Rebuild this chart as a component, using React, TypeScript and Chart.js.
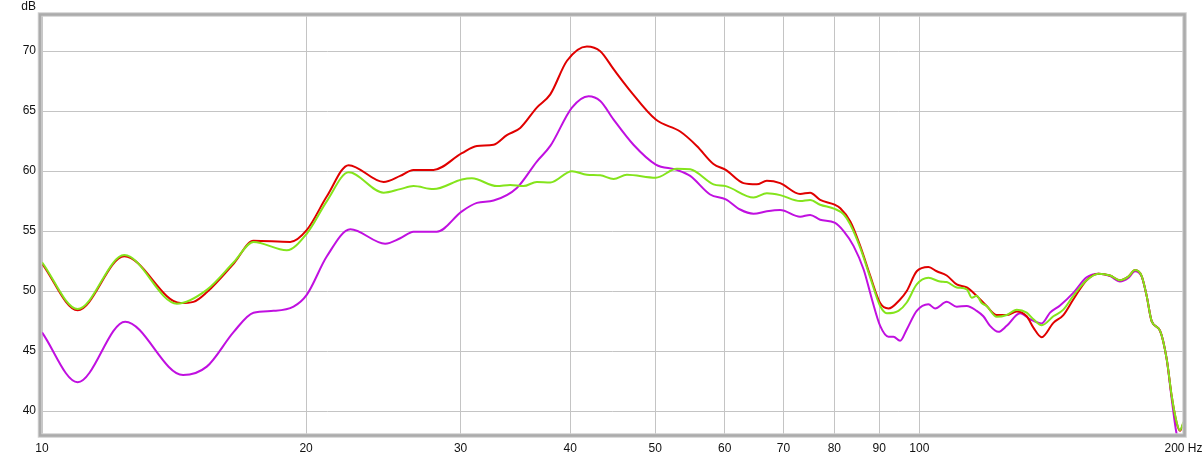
import React, { useEffect, useRef } from 'react';
import { Chart, registerables } from 'chart.js';

Chart.register(...registerables);

const xTickValues = [10, 20, 30, 40, 50, 60, 70, 80, 90, 100, 200];
const yTickValues = [40, 45, 50, 55, 60, 65, 70];
const xUnit = 'Hz';
const yUnit = 'dB';

const redFreq = [10, 10.98, 12.41, 14.38, 14.88, 15.41, 16.54, 17.42, 19.18, 20.04, 21.12, 22.36, 24.51, 25.6, 26.51, 27.94, 30.1, 31.31, 32.71, 33.87, 35.08, 36.64, 37.96, 39.66, 41.79, 43.28, 44.82, 46.82, 50.07, 53.38, 55.76, 58.25, 60.17, 63.02, 65.27, 67.01, 69.39, 73.13, 75.07, 77.07, 80.06, 81.26, 83.42, 85.63, 87.92, 90.22, 92.21, 95.06, 96.74, 99.31, 102.4, 104.66, 107.44, 110.3, 113.24, 116.23, 119.32, 122.49, 125.76, 129.1, 132.54, 134.88, 137.86, 142.14, 145.91, 149.76, 155.1, 159.96, 164.93, 169.3, 173.04, 176.1, 179.21, 181.57, 183.96, 188.03, 191.4, 193.9, 196.46, 198.18, 200];
const redDb = [52.3, 48.4, 52.9, 49.0, 49.1, 49.9, 52.3, 54.2, 54.1, 55.1, 57.9, 60.5, 59.1, 59.6, 60.1, 60.1, 61.5, 62.1, 62.2, 63.0, 63.6, 65.3, 66.4, 69.2, 70.4, 70.0, 68.5, 66.7, 64.3, 63.3, 62.1, 60.6, 60.1, 59.0, 58.9, 59.2, 59.0, 58.1, 58.2, 57.6, 57.2, 56.9, 55.8, 53.75, 51.25, 49.0, 48.55, 49.3, 50.0, 51.65, 52.0, 51.65, 51.3, 50.55, 50.3, 49.6, 48.75, 48.0, 48.0, 48.3, 47.9, 46.95, 46.15, 47.35, 48.0, 49.3, 50.9, 51.45, 51.3, 50.9, 51.2, 51.75, 51.25, 49.6, 47.5, 46.7, 44.3, 41.25, 39.0, 38.35, 39.0];

const greenFreq = [10, 10.98, 12.41, 14.25, 15.41, 16.54, 17.42, 19.01, 20.04, 21.12, 22.36, 24.51, 25.6, 26.51, 27.94, 30.1, 30.9, 33.0, 34.17, 35.38, 36.64, 37.96, 40.18, 41.79, 43.28, 44.82, 46.41, 50.07, 52.91, 54.8, 58.25, 60.17, 64.71, 67.01, 69.39, 73.13, 75.07, 77.07, 80.06, 81.97, 83.42, 85.63, 87.92, 90.22, 91.8, 94.65, 96.74, 99.31, 102.4, 105.6, 107.44, 110.3, 113.24, 114.73, 116.23, 117.77, 119.32, 122.49, 125.76, 129.1, 132.54, 134.88, 137.86, 142.14, 145.91, 149.76, 155.1, 159.96, 164.93, 169.3, 173.04, 176.1, 179.21, 181.57, 183.96, 188.03, 191.4, 193.9, 196.46, 198.18, 200];
const greenDb = [52.4, 48.5, 53.0, 48.95, 50.1, 52.4, 54.1, 53.4, 54.8, 57.5, 59.9, 58.2, 58.5, 58.75, 58.5, 59.3, 59.4, 58.75, 58.85, 58.75, 59.1, 59.05, 60.0, 59.7, 59.65, 59.35, 59.7, 59.45, 60.2, 60.15, 58.9, 58.75, 57.8, 58.15, 58.0, 57.5, 57.6, 57.2, 56.85, 56.4, 55.55, 53.6, 51.1, 48.75, 48.15, 48.35, 49.05, 50.55, 51.1, 50.8, 50.75, 50.3, 50.15, 49.45, 49.6, 49.0, 48.75, 47.85, 48.0, 48.45, 48.2, 47.65, 47.15, 47.9, 48.45, 49.6, 50.9, 51.45, 51.3, 50.9, 51.2, 51.75, 51.25, 49.6, 47.5, 46.7, 44.3, 41.25, 39.05, 38.4, 39.1];

const magentaFreq = [10, 10.98, 12.44, 14.48, 15.41, 16.54, 17.42, 18.36, 19.35, 20.04, 21.12, 22.46, 24.61, 25.6, 26.51, 28.18, 30.1, 31.31, 32.71, 34.77, 36.64, 37.96, 40.18, 41.97, 43.28, 44.82, 47.22, 50.07, 52.91, 54.8, 57.74, 60.17, 62.47, 64.71, 67.01, 69.39, 73.13, 75.07, 77.07, 80.06, 81.97, 84.15, 86.39, 88.3, 90.22, 92.21, 93.42, 95.06, 96.74, 99.31, 102.4, 104.2, 107.44, 110.3, 113.24, 116.23, 118.28, 120.37, 123.03, 125.76, 130.24, 133.7, 137.86, 140.9, 144.64, 149.76, 155.1, 159.96, 164.93, 169.3, 173.04, 176.1, 179.21, 181.57, 183.96, 188.03, 191.4, 193.9, 196.46, 200];
const magentaDb = [46.55, 42.4, 47.45, 43.0, 43.7, 46.6, 48.2, 48.35, 48.7, 49.7, 52.9, 55.15, 53.95, 54.4, 54.95, 54.95, 56.65, 57.35, 57.55, 58.6, 60.8, 62.1, 65.3, 66.25, 65.85, 64.3, 62.2, 60.55, 60.1, 59.6, 58.05, 57.65, 56.8, 56.45, 56.65, 56.75, 56.2, 56.35, 55.95, 55.7, 55.0, 53.75, 51.8, 49.3, 47.1, 46.2, 46.2, 45.85, 46.8, 48.35, 48.9, 48.55, 49.1, 48.7, 48.75, 48.35, 47.9, 47.1, 46.6, 47.1, 48.15, 47.65, 47.3, 48.2, 48.8, 49.85, 51.15, 51.45, 51.25, 50.8, 51.1, 51.65, 51.2, 49.6, 47.5, 46.7, 44.3, 41.0, 38.05, 36.5];

const toPoints = (f: number[], d: number[]) => f.map((x, i) => ({ x, y: d[i] }));

export default function App() {
  const ref = useRef<HTMLCanvasElement>(null);

  useEffect(() => {
    if (!ref.current) return;
    const fontFamily = "'Liberation Sans', Arial, sans-serif";

    const framePlugin = {
      id: 'frame',
      afterDraw(chart: any) {
        const { ctx, chartArea: a } = chart;
        ctx.save();
        ctx.strokeStyle = '#d0d0d0';
        ctx.lineWidth = 4.5;
        ctx.strokeRect(a.left - 2, a.top + 0.5, a.right - a.left + 3, a.bottom - a.top);
        ctx.strokeStyle = '#ababab';
        ctx.lineWidth = 2.5;
        ctx.strokeRect(a.left - 2, a.top + 0.5, a.right - a.left + 3, a.bottom - a.top);
        ctx.fillStyle = '#111';
        ctx.font = `12px ${fontFamily}`;
        ctx.textAlign = 'right';
        ctx.textBaseline = 'middle';
        ctx.fillText(yUnit, 36, 6.5);
        ctx.restore();
      },
    };

    const chart = new Chart(ref.current, {
      type: 'line',
      data: {
        datasets: [
          {
            label: 'magenta',
            data: toPoints(magentaFreq, magentaDb),
            borderColor: '#c010e0',
            borderWidth: 2,
            pointRadius: 0,
            cubicInterpolationMode: 'monotone',
            order: 3,
          },
          {
            label: 'red',
            data: toPoints(redFreq, redDb),
            borderColor: '#e00000',
            borderWidth: 2,
            pointRadius: 0,
            cubicInterpolationMode: 'monotone',
            order: 2,
          },
          {
            label: 'green',
            data: toPoints(greenFreq, greenDb),
            borderColor: '#84e41c',
            borderWidth: 2,
            pointRadius: 0,
            cubicInterpolationMode: 'monotone',
            order: 1,
          },
        ],
      },
      options: {
        responsive: false,
        animation: false,
        devicePixelRatio: 1,
        layout: { padding: { top: 14, right: 20.5, left: 0, bottom: 0 } },
        plugins: { legend: { display: false }, tooltip: { enabled: false } },
        scales: {
          x: {
            type: 'logarithmic',
            min: 10,
            max: 200,
            afterBuildTicks: (s: any) => {
              s.ticks = xTickValues.map((v) => ({ value: v }));
            },
            afterFit: (s: any) => {
              s.height = 24;
              s.paddingLeft = 0;
              s.paddingRight = 0;
            },
            grid: { color: '#c4c4c4', lineWidth: 1, drawTicks: false },
            border: { display: false },
            ticks: {
              autoSkip: false,
              maxRotation: 0,
              padding: 6,
              color: '#111',
              font: { size: 12, family: fontFamily },
              callback: (v: any) => (Number(v) === 200 ? `200 ${xUnit}` : String(v)),
            },
          },
          y: {
            type: 'linear',
            min: 38,
            max: 73.1,
            afterBuildTicks: (s: any) => {
              s.ticks = yTickValues.map((v) => ({ value: v }));
            },
            afterFit: (s: any) => {
              s.width = 42;
              s.paddingTop = 0;
              s.paddingBottom = 0;
            },
            grid: { color: '#c4c4c4', lineWidth: 1, drawTicks: false },
            border: { display: false },
            ticks: {
              padding: 6,
              color: '#111',
              font: { size: 12, family: fontFamily },
              callback: (v: any) => String(v),
            },
          },
        },
      },
      plugins: [framePlugin],
    } as any);

    return () => chart.destroy();
  }, []);

  return (
    <div style={{ position: 'fixed', left: 0, top: 0, width: 1204, height: 459, background: '#fff' }}>
      <canvas ref={ref} width={1204} height={459} style={{ display: 'block', width: 1204, height: 459 }} />
    </div>
  );
}
